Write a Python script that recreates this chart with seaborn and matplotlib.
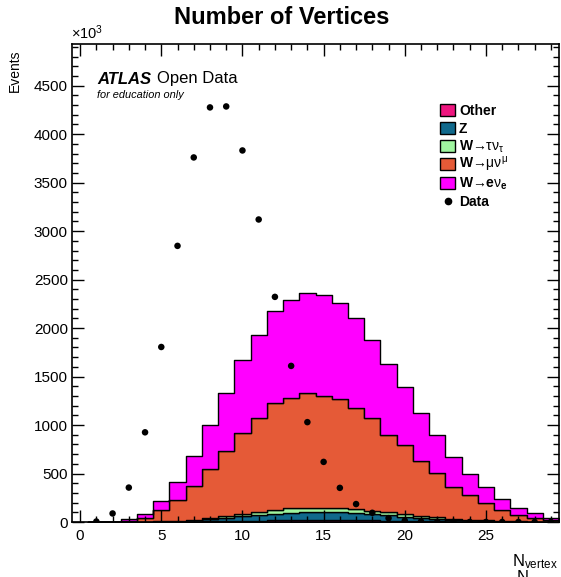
import numpy as np
import pandas as pd
import matplotlib
matplotlib.use("Agg")
import matplotlib.pyplot as plt
from matplotlib.patches import Rectangle
from matplotlib.lines import Line2D
from matplotlib.ticker import MultipleLocator
import seaborn as sns

# ---- data (event counts in units of 10^3) ----
n_vertex = list(range(1, 30))

other = [0, 0, 0, 1, 1, 2, 4, 6, 9, 12, 15, 17, 19, 20, 20, 20, 18, 16, 14, 11,
         9, 7, 5, 3, 2, 2, 1, 1, 0]
z_ll = [0, 0, 1, 1, 3, 7, 12, 21, 32, 46, 59, 70, 77, 80, 81, 78, 73, 65, 55, 45,
        35, 26, 19, 14, 10, 6, 4, 2, 2]
w_tau = [0, 0, 0, 1, 2, 3, 6, 11, 17, 24, 33, 40, 44, 47, 47, 45, 42, 37, 31, 26,
         20, 15, 11, 8, 5, 3, 2, 1, 0]
w_mu = [0, 1, 9, 42, 114, 220, 350, 506, 672, 840, 966, 1098, 1143, 1181, 1156,
        1127, 1047, 959, 798, 713, 566, 461, 329, 254, 176, 113, 65, 34, 19]
w_e = [0, 1, 18, 35, 93, 184, 312, 460, 605, 747, 860, 953, 1008, 1039, 1039,
       987, 922, 801, 729, 595, 498, 389, 304, 216, 165, 113, 76, 52, 24]
data = [5, 88, 355, 925, 1805, 2848, 3760, 4276, 4286, 3832, 3120, 2322, 1610,
        1030, 620, 352, 185, 95, 40, 14, 5, 2, 1, 0.5, 0.2, 0.2, 0.2, 0.2, 0.2]

process_names = ["We", "Wmu", "Wtau", "Z", "Other"]      # top -> bottom of stack
process_values = [w_e, w_mu, w_tau, z_ll, other]
process_colors = ["#ff00ff", "#e55a37", "#9ff59f", "#10698c", "#ee167f"]
legend_order = ["Other", "Z", "Wtau", "Wmu", "We"]
legend_labels = {
    "Other": "Other",
    "Z": "Z",
    "Wtau": r"W$\mathrm{→τν}_{\mathrm{τ}}$",
    "Wmu": r"W$\mathrm{→μν}^{\mathrm{μ}}$",
    "We": r"W$\mathrm{→}$e$\mathrm{ν}_{\mathbf{e}}$",
}

mc = pd.DataFrame({
    "n_vertex": np.tile(n_vertex, len(process_names)),
    "process": np.repeat(process_names, len(n_vertex)),
    "events": np.concatenate(process_values),
})
obs = pd.DataFrame({"n_vertex": n_vertex, "events": data})

# ---- style ----
plt.rcParams["font.family"] = ["Liberation Sans", "DejaVu Sans"]
plt.rcParams["mathtext.fontset"] = "custom"
plt.rcParams["mathtext.rm"] = "Liberation Sans"
plt.rcParams["mathtext.it"] = "Liberation Sans:italic"
plt.rcParams["mathtext.bf"] = "Liberation Sans:bold"

W, H = 561, 577
fig = plt.figure(figsize=(W / 100, H / 100), dpi=100)
ax = fig.add_axes([72 / W, 1 - 522 / H, 487 / W, 478 / H])


def fx(px):
    return px / W


def fy(py):
    return 1 - py / H


sns.histplot(
    data=mc, x="n_vertex", weights="events", hue="process",
    hue_order=process_names, palette=process_colors,
    multiple="stack", discrete=True, element="step", fill=True,
    alpha=1.0, edgecolor="black", linewidth=1.0, legend=False, ax=ax,
)
sns.scatterplot(data=obs, x="n_vertex", y="events", color="black", s=22,
                edgecolor="none", zorder=5, ax=ax)

ax.set_xlim(-0.5, 29.5)
ax.set_ylim(0, 4930)
ax.set_xlabel("")
ax.set_ylabel("")
ax.set_axisbelow(False)

ax.xaxis.set_major_locator(MultipleLocator(5))
ax.xaxis.set_minor_locator(MultipleLocator(1))
ax.yaxis.set_major_locator(MultipleLocator(500))
ax.yaxis.set_minor_locator(MultipleLocator(100))
ax.tick_params(which="both", direction="in", top=True, right=True,
               width=1.0, colors="black", labelsize=11)
ax.tick_params(which="major", length=8.6)
ax.tick_params(which="minor", length=4.6)
ax.tick_params(axis="x", which="major", pad=5)
ax.tick_params(axis="y", which="major", pad=3)
for sp in ax.spines.values():
    sp.set_linewidth(1.2)
    sp.set_color("black")
    sp.set_zorder(10)

# ---- texts ----
fig.text(fx(282), fy(23.5), "Number of Vertices", ha="center",
         va="baseline", fontsize=17, fontweight="bold")
fig.text(fx(71), fy(38.5), r"$\times$10$^{3}$", ha="left", va="baseline",
         fontsize=10.5)
fig.text(fx(15), fy(50), "Events", rotation=90, ha="center", va="top",
         fontsize=10)
fig.text(fx(558), fy(566), r"N$_{\mathrm{vertex}}$", ha="right",
         va="baseline", fontsize=12)
fig.text(fx(517), fy(582), "N", ha="left", va="baseline", fontsize=12)

fig.text(fx(97), fy(83.5), "ATLAS", fontsize=12, fontweight="bold",
         fontstyle="italic", ha="left", va="baseline")
fig.text(fx(157), fy(83.5), "Open Data", fontsize=12, ha="left",
         va="baseline")
fig.text(fx(97), fy(98.3), "for education only", fontsize=7.9,
         fontstyle="italic", ha="left", va="baseline")

# ---- legend ----
color_of = dict(zip(process_names, process_colors))
row_y = [110, 128, 146, 164, 183, 201]
for p, y in zip(legend_order, row_y):
    fig.add_artist(Rectangle((fx(440), fy(y + 6)), 15 / W, 12 / H,
                             transform=fig.transFigure,
                             facecolor=color_of[p], edgecolor="black",
                             linewidth=1.0))
    fig.text(fx(459), fy(y + 5), legend_labels[p], ha="left", va="baseline",
             fontsize=10, fontweight="bold")
fig.add_artist(Line2D([fx(447.5)], [fy(row_y[-1])], transform=fig.transFigure,
                      color="black", marker="o", markersize=4.5,
                      linestyle="none"))
fig.text(fx(459), fy(row_y[-1] + 5), "Data", ha="left", va="baseline",
         fontsize=10, fontweight="bold")

fig.savefig("out.png", dpi=100)
